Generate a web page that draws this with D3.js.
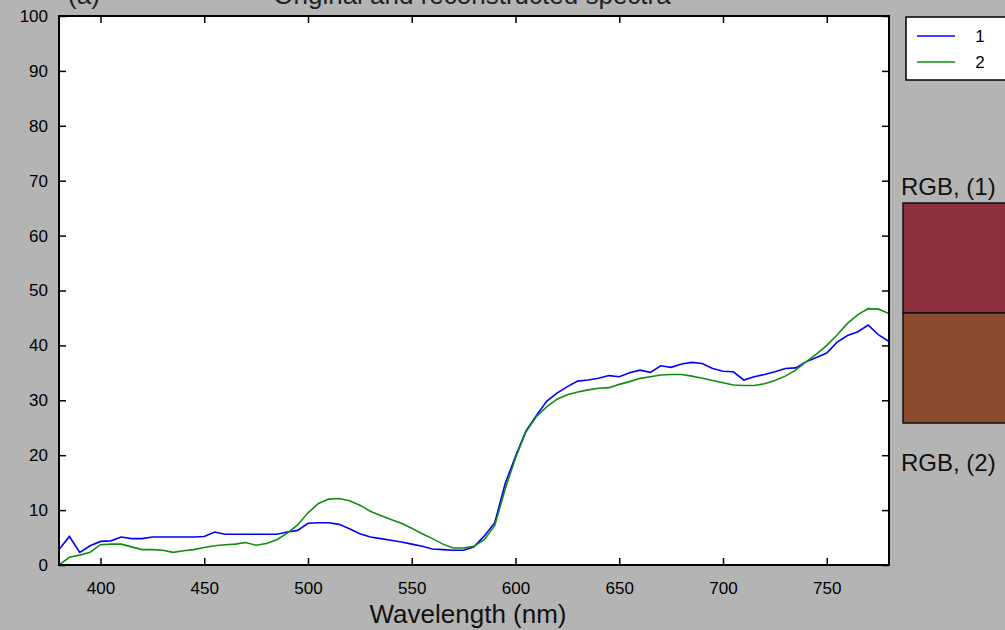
<!DOCTYPE html>
<html>
<head>
<meta charset="utf-8">
<script src="https://cdn.jsdelivr.net/npm/d3@7"></script>
<style>
  html, body { margin: 0; padding: 0; background: #b4b4b4; }
  svg { display: block; font-family: Arial, "Liberation Sans", sans-serif; }
</style>
</head>
<body>
<svg id="chart" width="1005" height="630"></svg>
<script>
// Wavelength samples (nm), 380..780 in 5 nm steps
const wavelengths = d3.range(380, 781, 5);

// Series 1: original spectrum
const series1 = [
  2.8, 5.2, 2.3, 3.5, 4.3, 4.4, 5.1, 4.8, 4.8, 5.1,
  5.1, 5.1, 5.1, 5.1, 5.2, 6.0, 5.6, 5.6, 5.6, 5.6,
  5.6, 5.6, 6.0, 6.3, 7.6, 7.7, 7.7, 7.4, 6.6, 5.7,
  5.1, 4.8, 4.5, 4.2, 3.8, 3.4, 2.9, 2.8, 2.7, 2.7,
  3.3, 5.3, 7.7, 14.8, 19.8, 24.4, 27.2, 29.8, 31.3, 32.5,
  33.5, 33.7, 34.0, 34.5, 34.3, 35.0, 35.5, 35.1, 36.3, 36.0,
  36.6, 36.9, 36.7, 35.8, 35.3, 35.2, 33.7, 34.3, 34.7, 35.2,
  35.8, 35.9, 37.0, 37.8, 38.6, 40.6, 41.8, 42.5, 43.7, 41.9,
  40.7
];

// Series 2: reconstructed spectrum
const series2 = [
  0.0, 1.4, 1.8, 2.3, 3.7, 3.8, 3.8, 3.3, 2.8, 2.8,
  2.7, 2.3, 2.6, 2.8, 3.2, 3.5, 3.7, 3.8, 4.1, 3.6,
  3.9, 4.6, 5.8, 7.3, 9.5, 11.2, 12.0, 12.1, 11.7, 10.9,
  9.8, 9.0, 8.3, 7.6, 6.7, 5.7, 4.8, 3.8, 3.1, 3.1,
  3.4, 4.6, 7.2, 13.8, 19.5, 24.2, 27.0, 28.8, 30.2, 31.0,
  31.5, 31.9, 32.2, 32.3, 32.9, 33.4, 34.0, 34.3, 34.6, 34.7,
  34.7, 34.4, 34.0, 33.6, 33.2, 32.8, 32.7, 32.7, 33.0, 33.6,
  34.4, 35.5, 37.0, 38.4, 40.0, 41.9, 44.0, 45.6, 46.7, 46.6,
  45.8
];

const seriesNames = ["1", "2"];
const seriesColors = ["#0000ff", "#118c11"];

const xTicks = [400, 450, 500, 550, 600, 650, 700, 750];
const yTicks = [0, 10, 20, 30, 40, 50, 60, 70, 80, 90, 100];

const titleText = "Original and reconstructed spectra";
const panelTag = "(a)";
const xLabel = "Wavelength (nm)";
const rgbLabels = ["RGB, (1)", "RGB, (2)"];
const rgbColors = ["#8b2f3d", "#8a4a2e"];

const svg = d3.select("#chart");
const plot = { left: 59, right: 889, top: 16, bottom: 565 };

const x = d3.scaleLinear().domain([380, 780]).range([plot.left, plot.right]);
const y = d3.scaleLinear().domain([0, 100]).range([plot.bottom, plot.top]);

// Title line, running off the top edge of the figure
svg.append("text").attr("x", 84).attr("y", 4).attr("text-anchor", "middle")
  .attr("font-size", 26).attr("fill", "#222").text(panelTag);
svg.append("text").attr("x", 472).attr("y", 4).attr("text-anchor", "middle")
  .attr("font-size", 26).attr("fill", "#222").text(titleText);

// Plot area
svg.append("rect")
  .attr("x", plot.left).attr("y", plot.top)
  .attr("width", plot.right - plot.left).attr("height", plot.bottom - plot.top)
  .attr("fill", "#ffffff");

svg.append("clipPath").attr("id", "plotclip").append("rect")
  .attr("x", plot.left).attr("y", plot.top)
  .attr("width", plot.right - plot.left).attr("height", plot.bottom - plot.top);

const line = d3.line().x((d, i) => x(wavelengths[i])).y(d => y(d));

const g = svg.append("g").attr("clip-path", "url(#plotclip)");
[series1, series2].forEach((s, k) => {
  g.append("path").datum(s)
    .attr("fill", "none")
    .attr("stroke", seriesColors[k])
    .attr("stroke-width", 1.6)
    .attr("d", line);
});

// Axes with inward ticks on all four sides
const tickLen = 7;
const axisStyle = sel => {
  sel.selectAll(".domain").remove();
  sel.selectAll("line").attr("stroke", "#000").attr("stroke-width", 1.5);
  sel.selectAll("text").attr("font-size", 17).attr("fill", "#000");
};

svg.append("g").attr("transform", `translate(0,${plot.bottom})`)
  .call(d3.axisBottom(x).tickValues(xTicks).tickSize(-tickLen).tickPadding(17).tickFormat(d3.format("d")))
  .call(axisStyle);
svg.append("g").attr("transform", `translate(0,${plot.top})`)
  .call(d3.axisTop(x).tickValues(xTicks).tickSize(-tickLen).tickFormat(""))
  .call(axisStyle);
svg.append("g").attr("transform", `translate(${plot.left},0)`)
  .call(d3.axisLeft(y).tickValues(yTicks).tickSize(-tickLen).tickPadding(11).tickFormat(d3.format("d")))
  .call(axisStyle);
svg.append("g").attr("transform", `translate(${plot.right},0)`)
  .call(d3.axisRight(y).tickValues(yTicks).tickSize(-tickLen).tickFormat(""))
  .call(axisStyle);

// Plot frame
svg.append("rect")
  .attr("x", plot.left).attr("y", plot.top)
  .attr("width", plot.right - plot.left).attr("height", plot.bottom - plot.top)
  .attr("fill", "none").attr("stroke", "#000").attr("stroke-width", 2);

// X label
svg.append("text").attr("x", 468).attr("y", 623).attr("text-anchor", "middle")
  .attr("font-size", 26).attr("fill", "#111").text(xLabel);

// Legend
const lg = svg.append("g");
lg.append("rect").attr("x", 906).attr("y", 17).attr("width", 110).attr("height", 63)
  .attr("fill", "#ffffff").attr("stroke", "#000").attr("stroke-width", 1.5);
seriesNames.forEach((name, k) => {
  const ly = 36 + k * 26;
  lg.append("line").attr("x1", 917).attr("x2", 955).attr("y1", ly).attr("y2", ly)
    .attr("stroke", seriesColors[k]).attr("stroke-width", 1.6);
  lg.append("text").attr("x", 980).attr("y", ly + 6).attr("text-anchor", "middle")
    .attr("font-size", 17).attr("fill", "#000").text(name);
});

// RGB swatches of the two spectra
const sw = { left: 903, top: 203, mid: 313, bottom: 423 };
svg.append("rect").attr("x", sw.left).attr("y", sw.top)
  .attr("width", 120).attr("height", sw.mid - sw.top)
  .attr("fill", rgbColors[0]).attr("stroke", "#111").attr("stroke-width", 1.5);
svg.append("rect").attr("x", sw.left).attr("y", sw.mid)
  .attr("width", 120).attr("height", sw.bottom - sw.mid)
  .attr("fill", rgbColors[1]).attr("stroke", "#111").attr("stroke-width", 1.5);
svg.append("text").attr("x", 901).attr("y", 195)
  .attr("font-size", 24).attr("fill", "#111").text(rgbLabels[0]);
svg.append("text").attr("x", 901).attr("y", 471)
  .attr("font-size", 24).attr("fill", "#111").text(rgbLabels[1]);
</script>
</body>
</html>
